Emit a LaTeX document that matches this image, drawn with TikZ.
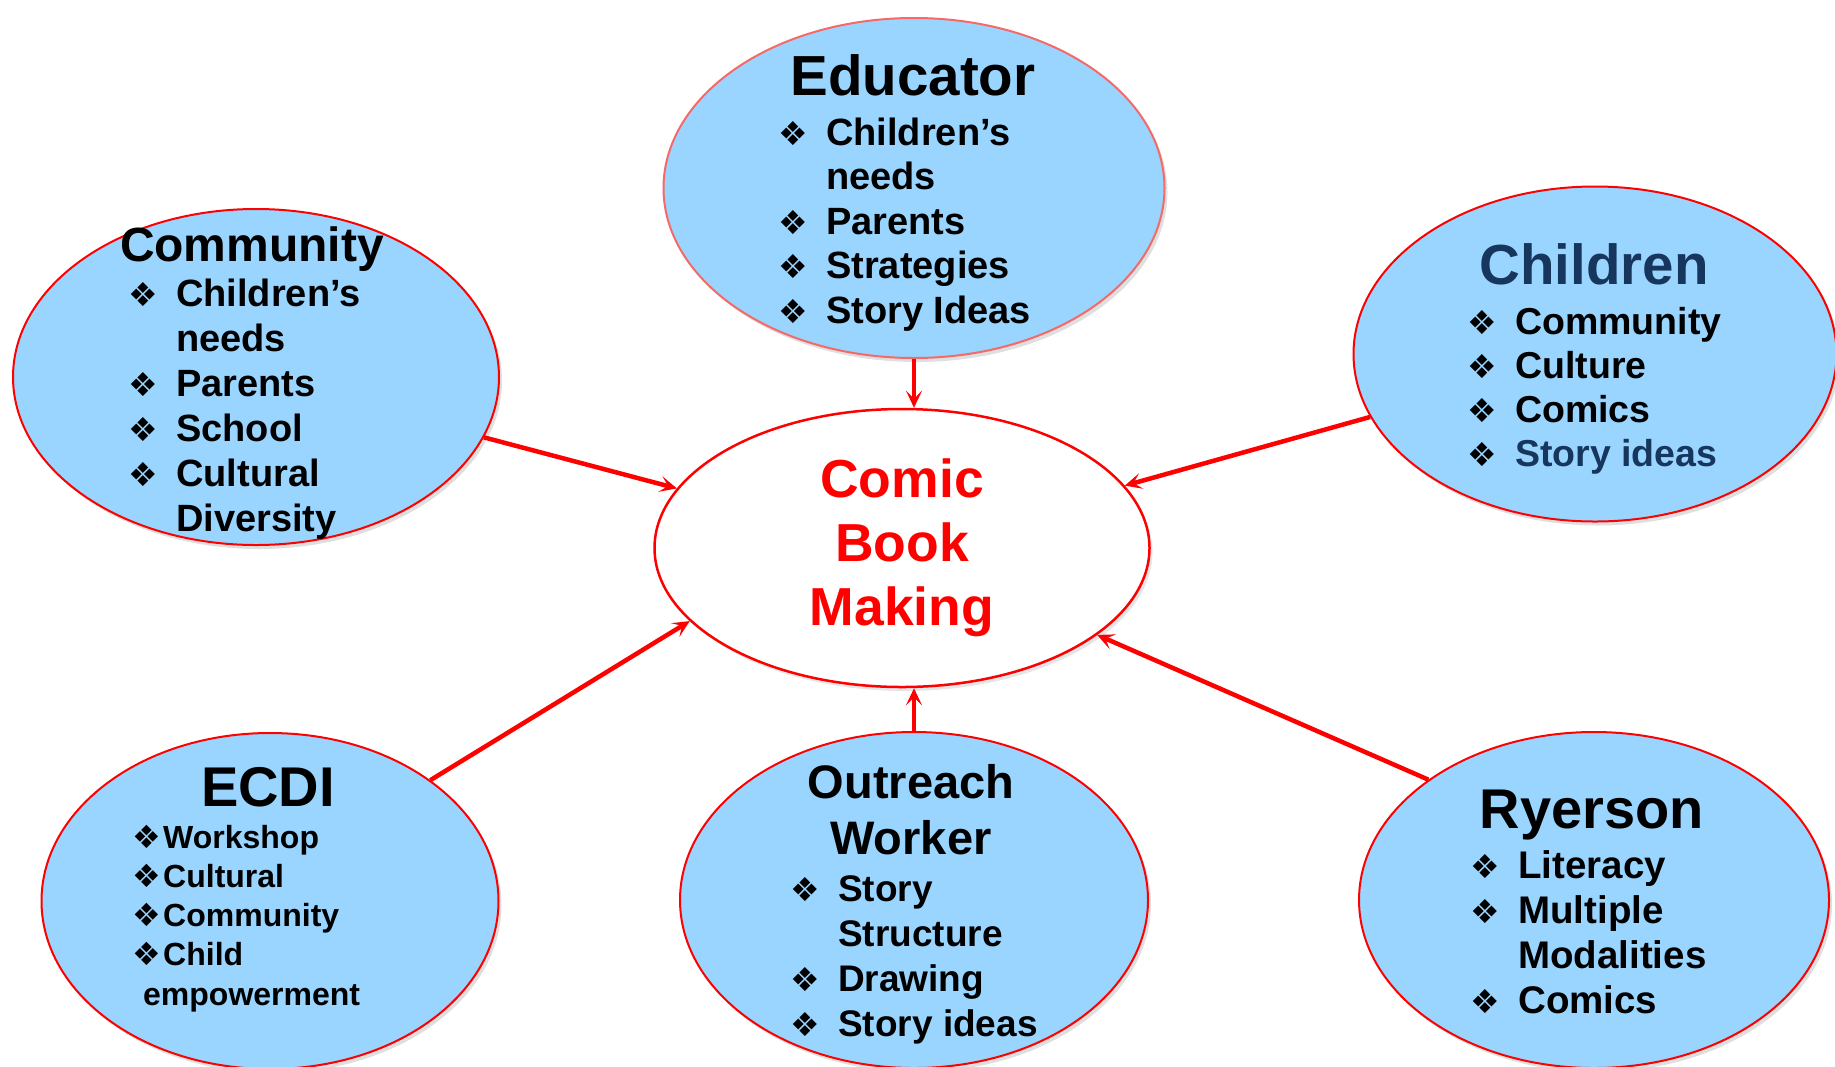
\documentclass[tikz,border=0pt]{standalone}
\usepackage{fontspec}
\setmainfont{Liberation Sans}
\newfontfamily\dingfont{DejaVu Sans}
\usetikzlibrary{arrows.meta,shapes.geometric,shadows}

\definecolor{skyfill}{RGB}{153,213,255}
\definecolor{navy}{RGB}{23,54,93}
\definecolor{softred}{RGB}{245,105,105}

\newcommand{\sz}[2]{\fontsize{#1}{#2}\selectfont}
\newcommand{\bul}{\makebox[48pt][l]{\dingfont\sz{33}{33}❖}}
\newcommand{\tightbul}{\makebox[31pt][l]{\dingfont\sz{32}{32}❖}}

\tikzset{>={Stealth[length=17pt,width=16pt,inset=8pt]},
         feed/.style={draw=red, line width=4.5pt, ->},
         heading/.style 2 args={anchor=base, inner sep=0pt, font=\bfseries\sz{#1}{#2}},
         points/.style 2 args={anchor=base west, inner sep=0pt, font=\bfseries\sz{#1}{#2}}}
\tikzstyle{bubble}=[ellipse, draw=red, line width=2pt, fill=skyfill, inner sep=0pt,
   drop shadow={opacity=0.25,shadow xshift=3pt,shadow yshift=-4pt}]
\tikzstyle{hub}=[ellipse, draw=red, line width=2.5pt, fill=white, inner sep=0pt,
   align=center, text=red, font=\bfseries\sz{53.5}{64},
   drop shadow={opacity=0.2,shadow xshift=3pt,shadow yshift=-4pt}]

\begin{document}
\begin{tikzpicture}[x=1pt,y=-1pt]
  \useasboundingbox (0,0) rectangle (1835,1066);
  % partners round the hub
  \node[bubble, draw=softred, minimum width=501pt, minimum height=340pt] (edu) at (914,188) {};
  \node[bubble, minimum width=486pt, minimum height=336pt] (comm) at (256,377) {};
  \node[bubble, minimum width=483pt, minimum height=335pt] (child) at (1595,354) {};
  \node[bubble, minimum width=457pt, minimum height=336pt] (ecdi) at (270,901) {};
  \node[bubble, minimum width=468pt, minimum height=336pt] (outr) at (914,900) {};
  \node[bubble, minimum width=470pt, minimum height=336pt] (ryer) at (1594,900) {};
  % the hub
  \node[hub, minimum width=495pt, minimum height=278pt] (comic) at (902,548) {Comic\\Book\\Making};

  % texts
  \node[heading={56.5}{68}] (edu-t) at (913,95) {Educator};
  \node[points={38}{44.5}] (edu-l) at (778,145) {\begin{tabular}[t]{@{}l@{}l@{}}
      \bul & Children’s\\ & needs\\ \bul & Parents\\ \bul & Strategies\\ \bul & Story Ideas
    \end{tabular}};
  \node[heading={48}{58}] (comm-t) at (252,261) {Community};
  \node[points={38}{45}] (comm-l) at (128,306) {\begin{tabular}[t]{@{}l@{}l@{}}
      \bul & Children’s\\ & needs\\ \bul & Parents\\ \bul & School\\ \bul & Cultural\\ & Diversity
    \end{tabular}};
  \node[heading={56.5}{68}, text=navy] (child-t) at (1594,284) {Children};
  \node[points={37.5}{44}] (child-l) at (1467,334) {\begin{tabular}[t]{@{}l@{}l@{}}
      \bul & Community\\ \bul & Culture\\ \bul & Comics\\ \bul & \textcolor{navy}{Story ideas}
    \end{tabular}};
  \node[heading={56}{67}] (ecdi-t) at (268,806) {ECDI};
  \node[points={32}{39.3}] (ecdi-l) at (132,848) {\begin{tabular}[t]{@{}l@{}l@{}}
      \tightbul & Workshop\\ \tightbul & Cultural\\ \tightbul & Community\\ \tightbul & Child\\
      \multicolumn{2}{@{}l@{}}{\hspace*{11pt}empowerment}
    \end{tabular}};
  \node[heading={47}{56}] (outr-t) at (911,798) {\begin{tabular}[t]{@{}c@{}}Outreach\\ Worker\end{tabular}};
  \node[points={37}{45}] (outr-l) at (790,901) {\begin{tabular}[t]{@{}l@{}l@{}}
      \bul & Story\\ & Structure\\ \bul & Drawing\\ \bul & Story ideas
    \end{tabular}};
  \node[heading={56}{67}] (ryer-t) at (1592,828) {Ryerson};
  \node[points={38.5}{45}] (ryer-l) at (1470,878) {\begin{tabular}[t]{@{}l@{}l@{}}
      \bul & Literacy\\ \bul & Multiple\\ & Modalities\\ \bul & Comics
    \end{tabular}};

  % connectors into the hub
  \draw[feed] (edu.south) -- (edu.south |- comic.north);
  \draw[feed] (comm) -- (comic);
  \draw[feed] (child) -- (comic);
  \draw[feed] (ecdi.37) -- (comic.199);
  \draw[feed] (outr.north) -- (outr.north |- comic.south);
  \draw[feed] (ryer.144) -- (comic.336);
\end{tikzpicture}
\end{document}
